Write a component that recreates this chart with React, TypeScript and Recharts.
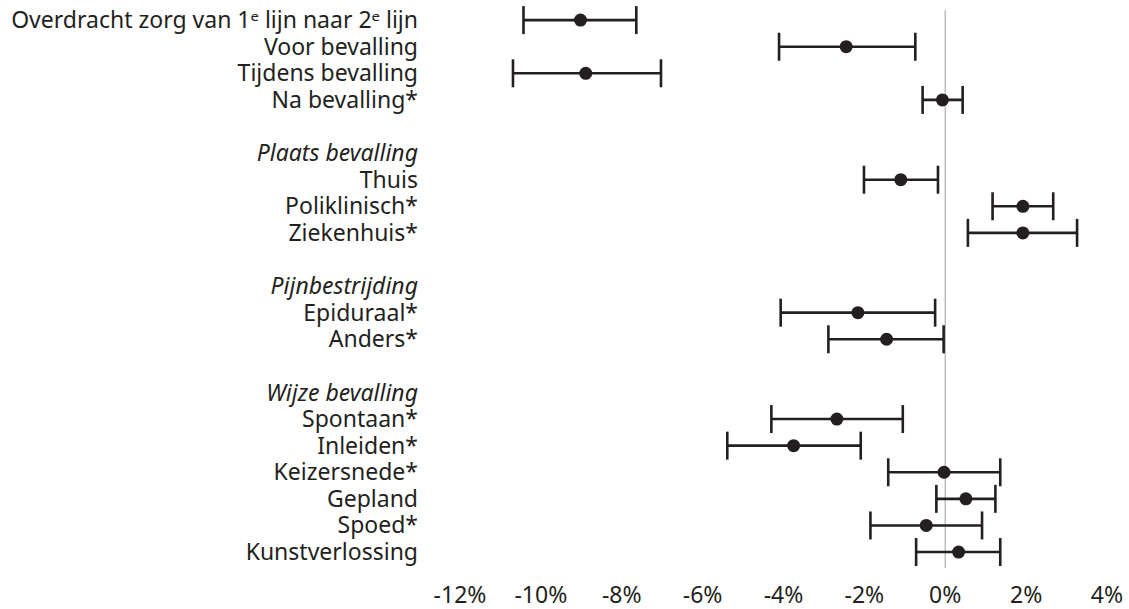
import { ScatterChart, Scatter, XAxis, YAxis, ErrorBar, ReferenceLine } from "recharts";

const LABELS = [
  "Overdracht zorg van 1ᵉ lijn naar 2ᵉ lijn",
  "Voor bevalling",
  "Tijdens bevalling",
  "Na bevalling*",
  "",
  "Plaats bevalling",
  "Thuis",
  "Poliklinisch*",
  "Ziekenhuis*",
  "",
  "Pijnbestrijding",
  "Epiduraal*",
  "Anders*",
  "",
  "Wijze bevalling",
  "Spontaan*",
  "Inleiden*",
  "Keizersnede*",
  "Gepland",
  "Spoed*",
  "Kunstverlossing",
];
const HEADERS = ["Plaats bevalling", "Pijnbestrijding", "Wijze bevalling"];

// row index of each estimate, point estimate and interval (%)
const ROWS = [0, 1, 2, 3, 6, 7, 8, 11, 12, 15, 16, 17, 18, 19, 20];
const ESTIMATE = [-9.02, -2.45, -8.89, -0.07, -1.1, 1.92, 1.92, -2.16, -1.45, -2.68, -3.75, -0.03, 0.51, -0.47, 0.33];
const LOWER = [-10.43, -4.11, -10.69, -0.56, -2.01, 1.17, 0.56, -4.07, -2.89, -4.3, -5.39, -1.41, -0.22, -1.85, -0.72];
const UPPER = [-7.64, -0.74, -7.03, 0.43, -0.18, 2.67, 3.26, -0.25, -0.04, -1.05, -2.09, 1.36, 1.24, 0.91, 1.36];

const X_TICKS = [-12, -10, -8, -6, -4, -2, 0, 2, 4];

const data = ROWS.map((row, i) => ({
  y: row,
  x: ESTIMATE[i],
  err: [ESTIMATE[i] - LOWER[i], UPPER[i] - ESTIMATE[i]],
}));

const INK = "#231f20";
const FONT = "'Noto Sans', sans-serif";

const RowLabel = (props: any) => {
  const { x, y, payload } = props;
  const label = LABELS[payload.value] ?? "";
  const italic = HEADERS.includes(label);
  return (
    <text
      x={x - 34}
      y={y}
      dy="0.35em"
      textAnchor="end"
      fill={INK}
      fontSize={23}
      fontFamily={FONT}
      fontStyle={italic ? "italic" : "normal"}
    >
      {label}
    </text>
  );
};

const Dot = (props: any) => <circle cx={props.cx} cy={props.cy} r={6.5} fill={INK} />;

export default function App() {
  return (
    <div style={{ position: "absolute", left: 0, top: 0, background: "#fff" }}>
      <ScatterChart width={1129} height={609} margin={{ top: 10, right: 22, bottom: 6, left: 0 }}>
        <XAxis
          type="number"
          dataKey="x"
          domain={[-12, 4]}
          ticks={X_TICKS}
          tickFormatter={(v) => `${v}%`}
          axisLine={false}
          tickLine={false}
          tickSize={6}
          tickMargin={13}
          height={35}
          tick={{ fontSize: 23, fill: INK, fontFamily: FONT }}
        />
        <YAxis
          type="number"
          dataKey="y"
          reversed
          domain={[-0.38, 20.6]}
          ticks={LABELS.map((_, i) => i)}
          interval={0}
          width={460}
          axisLine={false}
          tickLine={false}
          tick={<RowLabel />}
        />
        <ReferenceLine x={0} stroke="#bdbdbd" strokeWidth={1.5} />
        <Scatter data={data} shape={<Dot />} isAnimationActive={false}>
          <ErrorBar dataKey="err" direction="x" width={14} strokeWidth={2.6} stroke={INK} isAnimationActive={false} />
        </Scatter>
      </ScatterChart>
    </div>
  );
}
